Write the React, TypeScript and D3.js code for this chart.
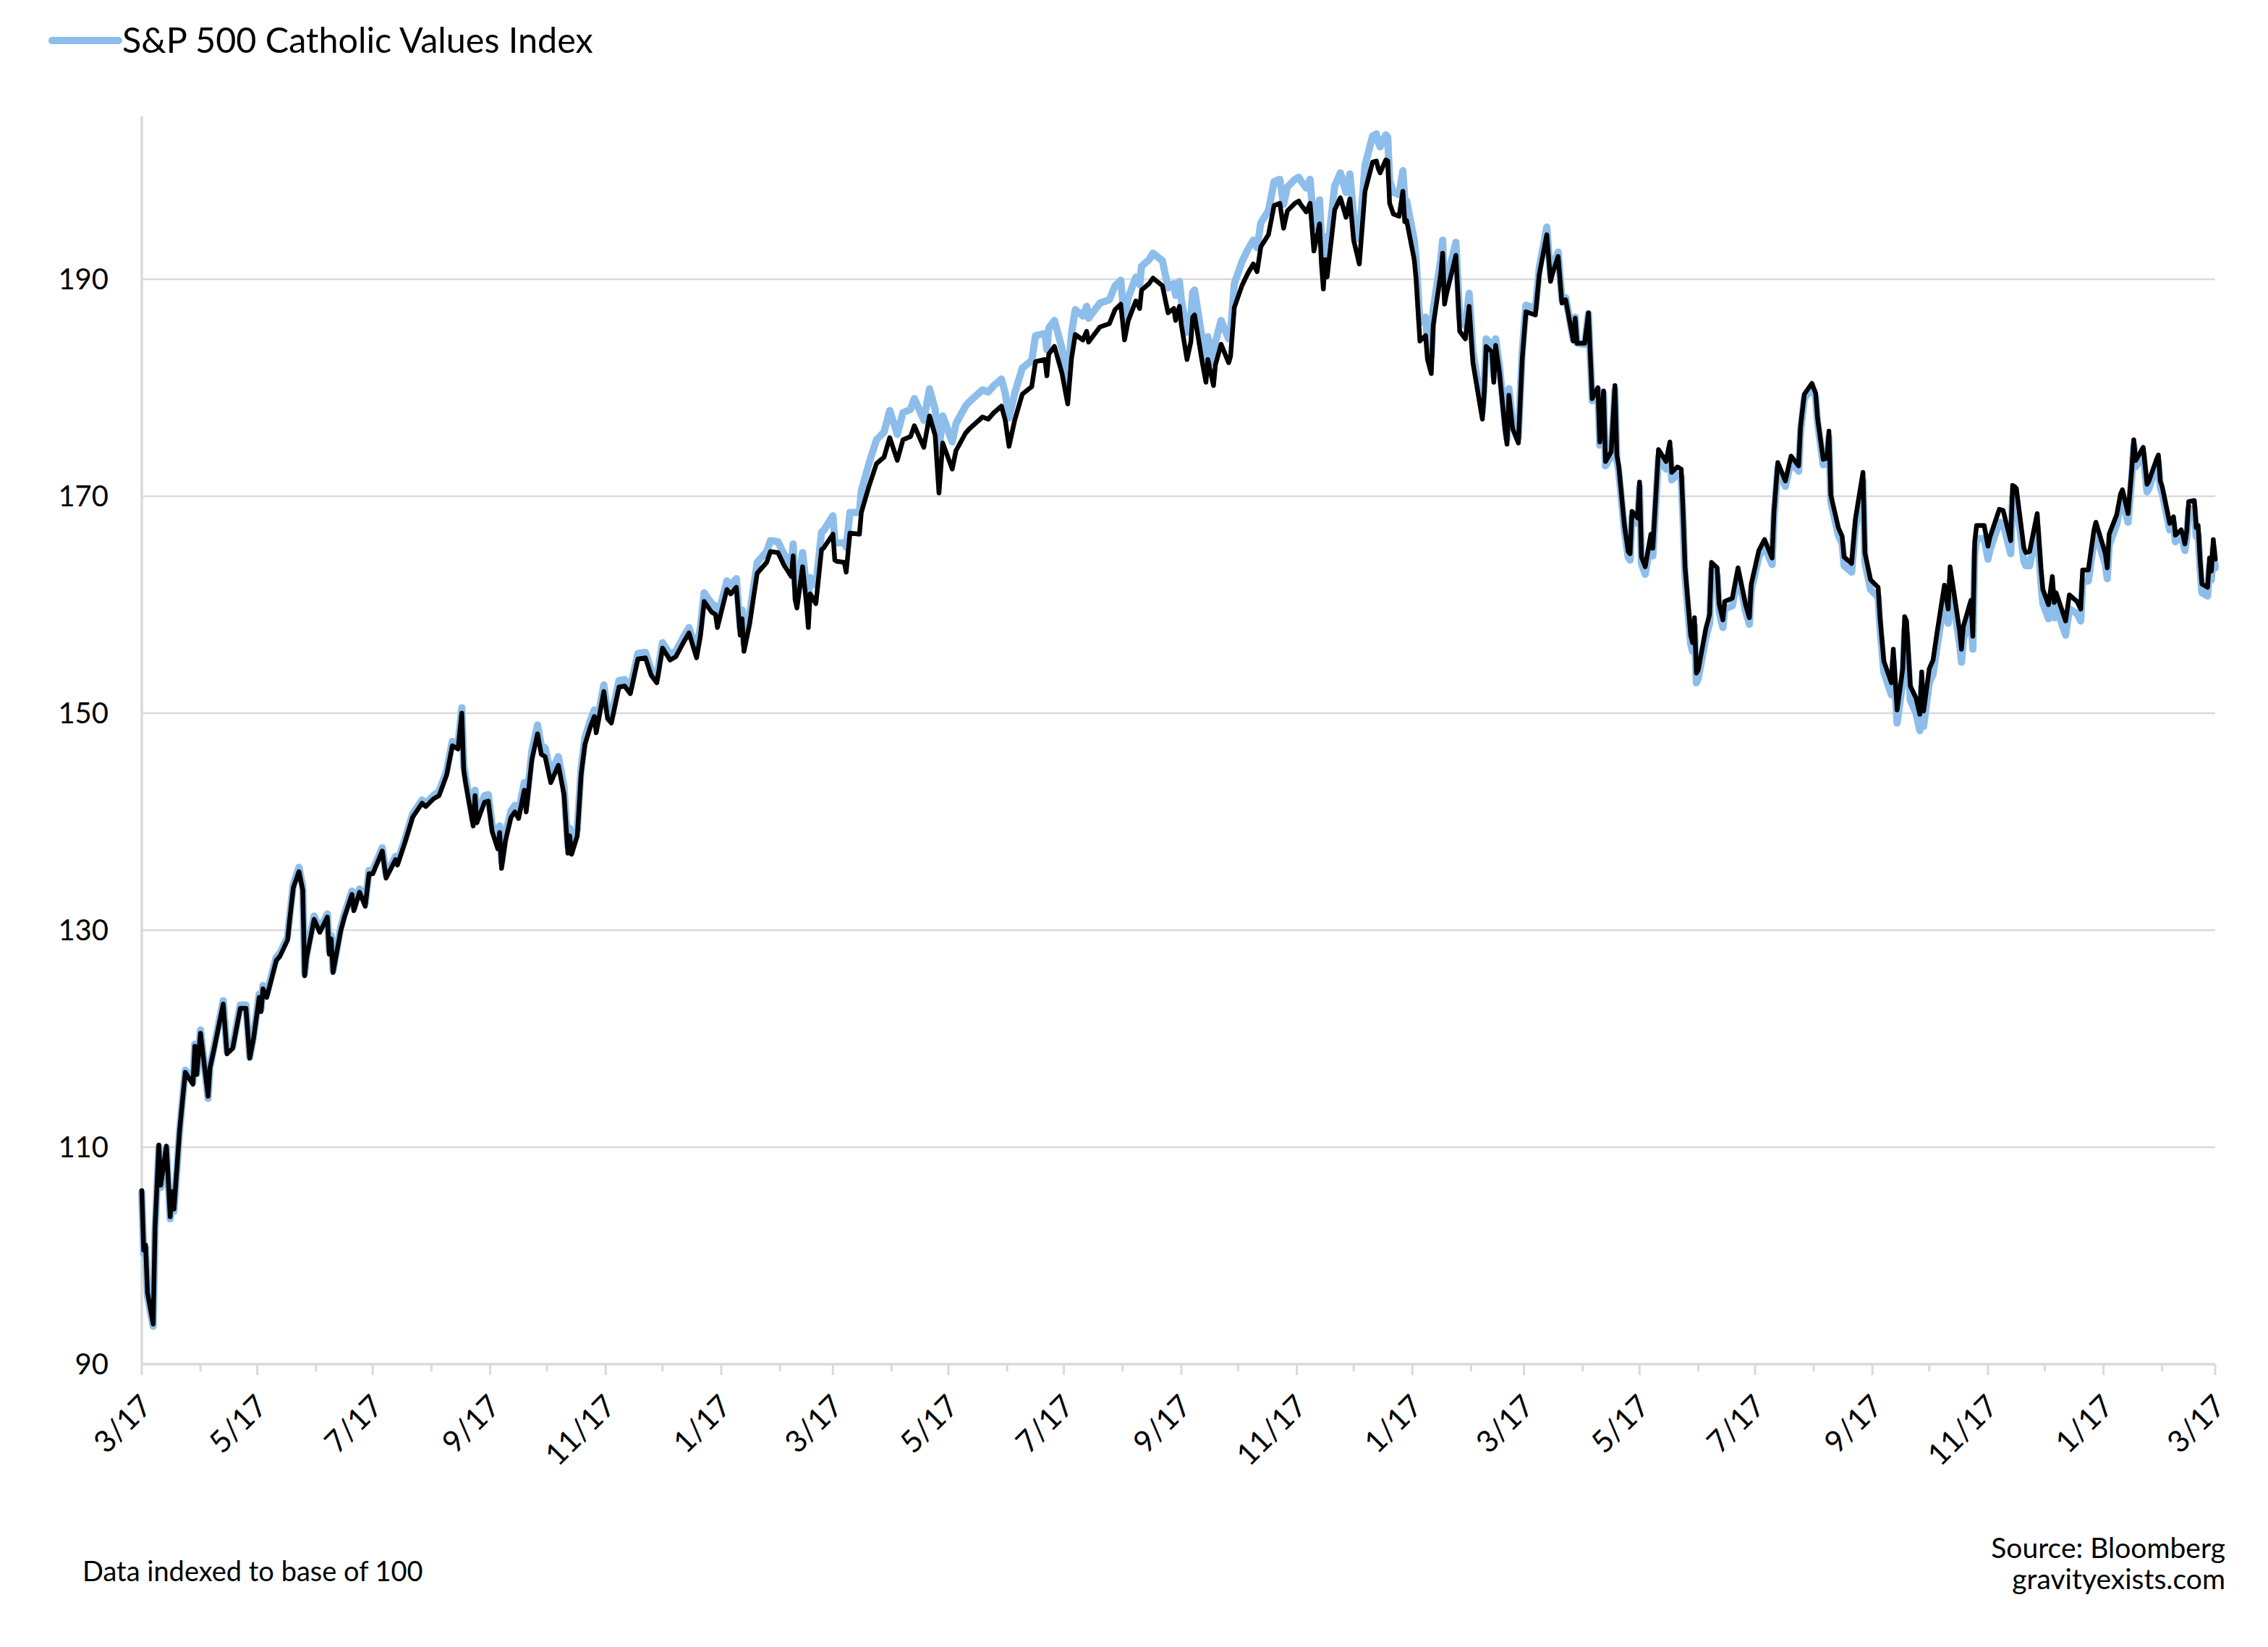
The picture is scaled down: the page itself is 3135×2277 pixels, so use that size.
import React from "react";
import * as d3 from "d3";

// ---- data (index, base 100) ----
const days2020 = ["03-17","03-18","03-19","03-20","03-23","03-24","03-26","03-27","03-30","04-01",
"04-02","04-03","04-06","04-08","04-09","04-13","04-14","04-15","04-17","04-21",
"04-22","04-24","04-29","05-01","05-04","05-08","05-11","05-13","05-15","05-18",
"05-19","05-20","05-22","05-27","05-29","06-02","06-03","06-05","06-08","06-10",
"06-11","06-12","06-16","06-19","06-23","06-24","06-25","06-26","06-30","07-02",
"07-06","07-07","07-10","07-13","07-15","07-17","07-22","07-24","07-29","07-30",
"08-03","08-07","08-12","08-14","08-18","08-21","08-25","08-28","08-31","09-02",
"09-03","09-04","09-08","09-09","09-10","09-14","09-16","09-18","09-21","09-22",
"09-23","09-25","09-28","09-30","10-02","10-05","10-06","10-09","10-12","10-14",
"10-16","10-19","10-23","10-26","10-28","10-29","10-30","11-02","11-04","11-06",
"11-09","11-11","11-12","11-16","11-18","11-20","11-24","11-27","11-30","12-04",
"12-08","12-11","12-14","12-17","12-21","12-24","12-28","12-31"];
const sp2020 = [106.0,100.5,101.0,96.6,93.7,102.6,110.2,106.5,110.1,103.6,
105.9,104.3,111.6,115.2,116.9,115.8,119.3,116.7,120.5,114.7,
117.3,118.9,123.2,118.6,119.1,122.8,122.8,118.2,120.0,123.8,
122.5,124.6,123.8,127.2,127.6,129.1,130.8,133.9,135.4,133.7,
125.8,127.4,131.0,129.8,131.2,127.8,129.2,126.1,129.9,131.2,
133.3,131.8,133.5,132.2,135.2,135.2,137.3,134.8,136.5,136.0,
138.1,140.4,141.7,141.4,142.1,142.4,144.3,147.0,146.7,150.0,
144.8,143.6,139.6,142.4,139.9,141.8,141.9,139.1,137.5,139.0,
135.7,138.2,140.4,140.9,140.3,142.9,140.9,145.7,148.1,146.2,
146.0,143.6,145.2,142.5,137.1,138.7,137.0,138.7,144.3,147.1,
148.8,149.7,148.2,152.0,149.5,149.1,152.4,152.5,151.8,155.0,
155.1,153.5,152.8,156.0,154.9,155.2,156.5,157.4];
const cv2020 = [105.8,100.2,100.7,96.3,93.5,102.4,110.0,106.3,109.9,103.4,
105.8,104.1,111.6,115.3,117.1,116.0,119.5,116.8,120.8,114.5,
117.4,119.1,123.5,118.8,119.3,123.1,123.1,118.3,120.2,124.1,
122.8,124.9,124.1,127.5,127.9,129.4,131.1,134.2,135.8,134.0,
126.0,127.7,131.3,130.1,131.5,128.1,129.5,126.3,130.2,131.5,
133.6,132.1,133.8,132.5,135.5,135.5,137.6,135.1,136.8,136.3,
138.4,140.7,142.0,141.7,142.4,142.8,144.7,147.4,147.1,150.5,
145.3,144.1,140.1,142.9,140.4,142.4,142.5,139.7,138.1,139.6,
136.3,138.8,141.0,141.5,140.9,143.6,141.6,146.5,148.9,147.0,
146.8,144.4,146.0,143.2,137.8,139.4,137.7,139.3,144.9,147.7,
149.4,150.3,148.8,152.6,150.1,149.7,153.0,153.1,152.3,155.5,
155.6,154.0,153.3,156.5,155.4,155.7,157.0,157.9];

const days2021 = ["01-04","01-06","01-08","01-12","01-14","01-15","01-20","01-22","01-25","01-27",
"01-28","01-29","02-01","02-03","02-05","02-10","02-12","02-16","02-19","02-23",
"02-24","02-25","02-26","03-01","03-03","03-04","03-05","03-08","03-11","03-12",
"03-17","03-18","03-19","03-23","03-24","03-26","03-31","04-01","04-05","04-09",
"04-13","04-16","04-20","04-23","04-27","04-29","05-04","05-07","05-10","05-12",
"05-14","05-19","05-21","05-26","05-28","06-04","06-07","06-10","06-14","06-16",
"06-18","06-21","06-25","06-30","07-02","07-07","07-08","07-09","07-12","07-16",
"07-19","07-21","07-23","07-27","07-29","07-30","08-05","08-10","08-13","08-16",
"08-18","08-20","08-24","08-26","08-27","08-31","09-02","09-07","09-10","09-13",
"09-14","09-16","09-17","09-20","09-22","09-23","09-24","09-28","09-30","10-01",
"10-04","10-05","10-08","10-12","10-13","10-15","10-19","10-22","10-25","10-27",
"10-29","11-02","11-05","11-08","11-10","11-12","11-16","11-18","11-19","11-22",
"11-24","11-26","11-29","11-30","12-01","12-02","12-03","12-07","12-10","12-13",
"12-15","12-17","12-20","12-23","12-27","12-29","12-30","12-31"];
const sp2021 = [155.1,157.1,160.3,159.3,159.1,157.9,161.4,161.0,161.6,157.2,
158.7,155.7,158.2,160.6,162.9,163.9,164.9,164.8,163.7,162.6,
164.5,160.5,159.7,163.5,160.1,157.9,161.0,160.1,165.1,165.2,
166.5,164.1,164.0,163.9,163.0,166.6,166.5,168.5,170.9,173.0,
173.6,175.4,173.3,175.2,175.5,176.5,174.5,177.4,175.6,170.3,
174.9,172.5,174.2,175.8,176.2,177.3,177.1,177.7,178.3,177.0,
174.6,177.0,179.4,180.1,182.4,182.6,181.1,183.1,183.8,181.3,
178.5,182.7,184.9,184.4,185.2,184.2,185.6,185.9,187.2,187.7,
184.4,186.2,188.0,187.3,189.0,189.6,190.1,189.4,186.9,187.3,
186.2,187.5,185.8,182.6,184.2,186.5,186.7,182.4,180.5,182.6,
180.2,182.1,184.0,182.3,182.9,187.4,189.4,190.5,191.4,190.7,
193.0,194.1,196.8,197.0,194.7,196.3,197.0,197.2,196.9,196.2,
197.0,192.6,195.1,191.4,189.1,191.8,190.2,196.4,197.5,195.7,
197.4,193.6,191.4,198.1,200.8,200.9,200.2,199.8];
const cv2021 = [155.8,157.9,161.1,160.1,159.9,158.7,162.2,161.8,162.4,157.9,
159.5,156.4,159.1,161.5,163.9,164.9,165.9,165.8,164.7,163.7,
165.6,161.9,161.0,164.8,161.6,160.6,162.5,161.8,166.7,166.8,
168.2,165.8,165.7,165.7,165.3,168.5,168.5,170.5,173.0,175.2,
175.9,177.9,175.7,177.7,178.0,179.0,177.0,179.9,178.0,174.2,
177.4,175.0,176.7,178.3,178.7,179.8,179.6,180.2,180.8,179.5,
177.2,179.5,181.8,182.5,184.8,185.0,183.5,185.5,186.2,183.6,
180.6,185.0,187.2,186.6,187.5,186.4,187.8,188.1,189.4,189.9,
186.2,188.3,190.2,189.5,191.2,191.8,192.4,191.7,189.2,189.6,
188.5,189.8,188.1,185.1,186.5,188.8,189.0,184.5,182.5,184.7,
182.3,184.2,186.2,184.5,185.1,189.6,191.6,192.7,193.6,192.9,
195.2,196.3,199.0,199.2,196.9,198.5,199.2,199.4,199.1,198.4,
199.2,194.8,197.3,193.5,191.1,193.9,192.3,198.6,199.8,198.0,
199.7,195.9,193.7,200.5,203.2,203.4,202.6,202.2];

const days2022 = ["01-03","01-04","01-05","01-07","01-10","01-12","01-13","01-14","01-18","01-19",
"01-21","01-24","01-25","01-27","01-28","02-01","02-02","02-03","02-04","02-09",
"02-10","02-11","02-14","02-16","02-18","02-23","02-24","02-25","02-28","03-01",
"03-02","03-04","03-07","03-08","03-09","03-11","03-14","03-16","03-18","03-23",
"03-25","03-29","03-31","04-01","04-04","04-06","04-08","04-12","04-13","04-14",
"04-18","04-20","04-22","04-25","04-26","04-28","04-29","05-02","05-04","05-05",
"05-06","05-09","05-11","05-12","05-13","05-16","05-17","05-18","05-20","05-23",
"05-24","05-27","05-31","06-02","06-03","06-06","06-08","06-09","06-10","06-13",
"06-14","06-15","06-16","06-17","06-21","06-23","06-24","06-27","06-28","06-30",
"07-01","07-05","07-08","07-12","07-14","07-15","07-19","07-22","07-26","07-27",
"07-29","08-02","08-05","08-09","08-10","08-12","08-16","08-18","08-19","08-22",
"08-24","08-25","08-26","08-30","09-01","09-02","09-06","09-08","09-12","09-13",
"09-16","09-20","09-21","09-23","09-27","09-28","09-30","10-03","10-04","10-05",
"10-07","10-10","10-12","10-13","10-14","10-17","10-19","10-21","10-25","10-27",
"10-28","11-02","11-03","11-04","11-08","11-09","11-10","11-11","11-15","11-17",
"11-18","11-23","11-25","11-29","11-30","12-01","12-02","12-06","12-07","12-09",
"12-13","12-15","12-16","12-19","12-21","12-22","12-23","12-28","12-30"];
const sp2022 = [201.0,200.9,197.0,196.0,195.8,198.1,195.3,195.4,191.8,190.0,
184.3,184.8,182.6,181.3,185.7,190.5,192.4,187.7,188.6,192.2,
188.8,185.2,184.5,187.5,182.3,177.1,179.7,183.8,183.3,180.5,
183.9,181.4,176.1,174.8,179.3,176.2,174.9,182.6,187.0,186.7,
190.4,194.1,189.8,190.5,192.1,187.8,188.1,184.3,186.4,184.1,
184.1,186.9,179.0,180.0,175.0,179.7,173.2,174.1,180.2,173.8,
172.8,167.3,164.9,164.7,168.6,168.0,171.3,164.4,163.5,166.5,
165.2,174.3,173.2,175.0,172.2,172.7,172.5,168.4,163.5,157.2,
156.5,158.8,153.7,154.0,157.8,159.1,163.9,163.4,160.1,158.6,
160.3,160.6,163.4,160.0,158.8,161.9,165.0,166.0,164.3,168.6,
173.1,171.4,173.7,172.8,176.4,179.4,180.4,179.5,177.2,173.4,
173.5,176.0,170.1,167.1,166.3,164.4,163.8,167.9,172.2,164.8,
162.3,161.6,158.8,154.8,152.8,155.9,150.3,154.1,158.9,158.5,
152.5,151.4,149.9,153.8,150.2,154.1,154.9,157.3,161.8,159.6,
163.5,157.6,155.9,158.0,160.4,157.1,165.8,167.3,167.3,165.4,
166.2,168.8,168.7,165.9,171.0,170.9,170.7,165.2,164.8,164.9,
168.4,163.3,161.4,160.0,162.6,160.2,161.1,158.5,160.9];
const cv2022 = [203.3,203.1,199.1,198.0,197.8,200.0,197.2,197.2,193.6,191.8,
186.0,186.5,184.2,182.9,187.2,191.8,193.6,188.9,189.8,193.4,
190.0,186.4,185.7,188.7,183.3,177.8,180.4,184.5,184.0,181.1,
184.5,182.0,176.6,175.3,179.9,176.8,175.4,183.2,187.6,187.3,
191.0,194.8,190.3,191.0,192.5,188.1,188.3,184.4,186.5,184.1,
184.0,186.8,178.8,179.8,174.7,179.4,172.8,173.7,179.8,173.3,
172.3,166.8,164.4,164.1,168.1,167.5,170.8,163.8,162.8,165.9,
164.5,173.6,172.5,174.3,171.5,172.0,171.8,167.7,162.7,156.4,
155.7,158.0,152.8,153.2,157.0,158.3,163.2,162.7,159.4,157.9,
159.6,159.9,162.8,159.4,158.2,161.3,164.4,165.4,163.7,168.0,
172.6,170.9,173.2,172.3,175.9,179.0,180.0,179.1,176.8,172.9,
173.0,175.4,169.5,166.4,165.6,163.6,163.0,167.1,171.4,163.9,
161.4,160.7,157.8,153.8,151.7,154.8,149.1,152.9,157.7,157.3,
151.2,150.0,148.4,152.4,148.8,152.8,153.6,156.0,160.5,158.3,
162.2,156.4,154.7,156.8,159.2,155.9,164.6,166.1,166.1,164.2,
165.0,167.6,167.5,164.7,169.9,169.8,169.6,164.0,163.6,163.6,
167.1,162.0,160.1,158.7,161.3,158.8,159.8,157.2,159.6];

const days2023 = ["01-03","01-05","01-06","01-09","01-12","01-13","01-18","01-19","01-20","01-24",
"01-26","01-27","01-30","02-01","02-02","02-03","02-07","02-09","02-10","02-14",
"02-15","02-16","02-17","02-21","02-23","02-24","02-27","02-28","03-01","03-02",
"03-03","03-06","03-07","03-08","03-09","03-10","03-13","03-14","03-15","03-16",
"03-17"];
const sp2023 = [160.3,159.6,163.2,163.2,166.9,167.6,164.7,163.4,166.5,168.3,
170.2,170.6,168.4,172.6,175.2,173.3,174.5,171.1,171.4,173.4,
173.8,171.4,170.9,167.5,168.1,166.4,166.9,166.4,165.6,166.8,
169.5,169.6,167.1,167.3,164.2,161.9,161.6,164.3,163.1,166.0,
164.2];
const cv2023 = [159.2,158.5,162.1,162.2,165.9,166.6,163.7,162.4,165.5,167.4,
169.3,169.8,167.6,171.9,174.7,172.7,173.9,170.4,170.7,172.8,
173.2,170.8,170.3,166.9,167.5,165.8,166.3,165.8,165.0,166.2,
168.8,168.9,166.3,166.5,163.4,161.1,160.8,163.5,162.3,165.2,
163.4];

const yTickValues = [90, 110, 130, 150, 170, 190];
const legendLabel = "S&P 500 Catholic Values Index";
const noteLeft = "Data indexed to base of 100";
const noteRight1 = "Source: Bloomberg";
const noteRight2 = "gravityexists.com";

const FONT = "Lato, 'Open Sans', 'DejaVu Sans', sans-serif";
const BLUE = "#8DBDEA";
const GRID = "#D9D9D9";

export default function App() {
  React.useEffect(() => {
    document.body.style.margin = "0";
  }, []);

  const W = 3135, H = 2277;
  const left = 196, right = 3062, bottom = 1886, top = 161;

  const parse = d3.timeParse("%Y-%m-%d");
  const years: [number, string[], number[], number[]][] = [
    [2020, days2020, sp2020, cv2020],
    [2021, days2021, sp2021, cv2021],
    [2022, days2022, sp2022, cv2022],
    [2023, days2023, sp2023, cv2023],
  ];
  const pts: { d: Date; b: number; c: number }[] = [];
  years.forEach(([yr, ds, bs, cs]) => {
    ds.forEach((md, i) => {
      pts.push({ d: parse(`${yr}-${md}`) as Date, b: bs[i], c: cs[i] });
    });
  });

  const x = d3.scaleTime()
    .domain([new Date(2020, 2, 17), new Date(2023, 2, 17)])
    .range([left, right]);
  const y = d3.scaleLinear().domain([90, 205]).range([bottom, top]);

  const lineB = d3.line<{ d: Date; b: number; c: number }>()
    .x((p) => x(p.d)).y((p) => y(p.b));
  const lineC = d3.line<{ d: Date; b: number; c: number }>()
    .x((p) => x(p.d)).y((p) => y(p.c));

  const monthTicks = d3.range(37).map((i) => new Date(2020, 2 + i, 17));
  const fmt = d3.timeFormat("%-m/%-d");

  return (
    <svg width={W} height={H} style={{ display: "block", position: "absolute", left: 0, top: 0 }} fontFamily={FONT}>
      <rect x={0} y={0} width={W} height={H} fill="#fff" />
      {yTickValues.filter((v) => v !== 90).map((v) => (
        <line key={"g" + v} x1={left} x2={right} y1={y(v)} y2={y(v)} stroke={GRID} strokeWidth={2.5} />
      ))}
      <line x1={left} x2={left} y1={top} y2={bottom} stroke={GRID} strokeWidth={3.5} />
      <line x1={left} x2={right} y1={bottom} y2={bottom} stroke={GRID} strokeWidth={3.5} />
      {monthTicks.map((t, i) => (
        <line key={"t" + i} x1={x(t)} x2={x(t)} y1={bottom} y2={bottom + (i % 2 === 0 ? 15 : 10)} stroke={GRID} strokeWidth={3} />
      ))}
      {yTickValues.map((v) => (
        <text key={"yl" + v} x={150} y={y(v)} dy="0.35em" textAnchor="end" fontSize={40} fill="#000">{v}</text>
      ))}
      {monthTicks.filter((_, i) => i % 2 === 0).map((t, i) => (
        <text key={"xl" + i} transform={`translate(${x(t) + 6},${bottom + 50}) rotate(-45)`} textAnchor="end" dy="0.35em" fontSize={42} fill="#000">
          {fmt(t)}
        </text>
      ))}
      <path d={lineC(pts) || ""} fill="none" stroke={BLUE} strokeWidth={10} strokeLinejoin="round" strokeLinecap="round" />
      <path d={lineB(pts) || ""} fill="none" stroke="#000" strokeWidth={6.5} strokeLinejoin="round" strokeLinecap="round" />

      <line x1={72} x2={164} y1={56} y2={56} stroke={BLUE} strokeWidth={10} strokeLinecap="round" />
      <text x={169} y={56} dy="0.35em" fontSize={48.5} fill="#000">{legendLabel}</text>

      <text x={114} y={2186} fontSize={38} fill="#000">{noteLeft}</text>
      <text x={3076} y={2154} textAnchor="end" fontSize={39} fill="#000">{noteRight1}</text>
      <text x={3076} y={2197} textAnchor="end" fontSize={39} fill="#000">{noteRight2}</text>
    </svg>
  );
}
